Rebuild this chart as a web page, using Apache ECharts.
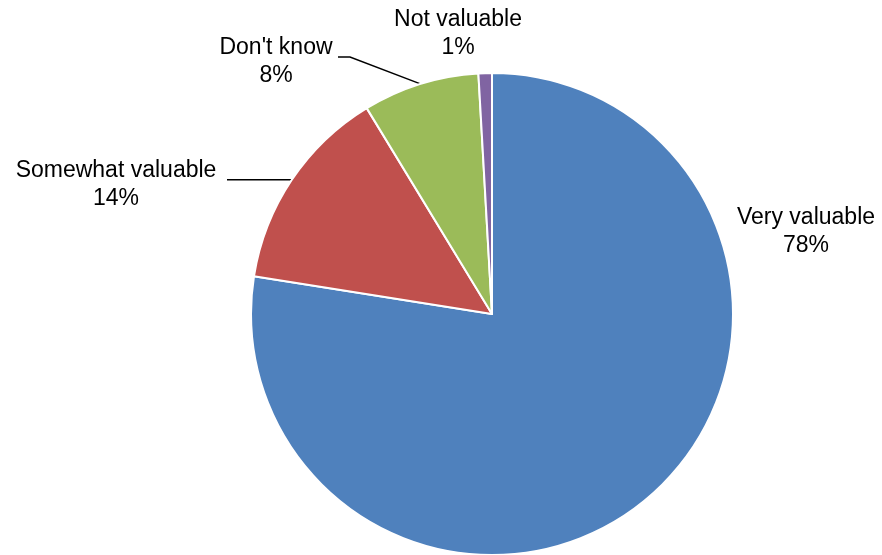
<!DOCTYPE html>
<html>
<head>
<meta charset="utf-8">
<script src="https://cdn.jsdelivr.net/npm/echarts@6/dist/echarts.min.js"></script>
<style>html,body{margin:0;padding:0;background:#fff}#c{width:882px;height:555px}</style>
</head>
<body>
<div id="c"></div>
<script>
const categories = ['Very valuable', 'Somewhat valuable', "Don't know", 'Not valuable'];
const values = [77.5, 13.8, 7.8, 0.9];
const colors = ['#4F81BD', '#C0504D', '#9BBB59', '#8064A2'];
const showLeader = [false, true, true, false];

const labelSpots = [
  {x: 806, y: 232},
  {x: 116, y: 185},
  {x: 276, y: 62},
  {x: 458, y: 34}
];

const chart = echarts.init(document.getElementById('c'), null, {renderer: 'canvas'});
chart.setOption({
  animation: false,
  backgroundColor: '#fff',
  series: [{
    type: 'pie',
    center: [492, 314],
    radius: 241,
    startAngle: 90,
    clockwise: true,
    avoidLabelOverlap: false,
    itemStyle: {borderColor: '#fff', borderWidth: 2},
    label: {
      show: true,
      position: 'outside',
      color: '#000',
      fontFamily: 'Liberation Sans, Arial, sans-serif',
      fontSize: 23,
      lineHeight: 28,
      align: 'center',
      formatter: p => p.name + '\n' + Math.round(p.percent) + '%'
    },
    labelLine: {show: true, length: 10, length2: 10, lineStyle: {color: '#000', width: 1.5}},
    labelLayout: function (p) {
      const s = labelSpots[p.dataIndex];
      const out = {x: s.x, y: s.y, align: 'center', verticalAlign: 'middle'};
      const p0 = p.labelLinePoints && p.labelLinePoints[0];
      if (p0) {
        if (p.dataIndex === 1) {
          out.labelLinePoints = [p0, [p0[0] - 35, p0[1]], [227, p0[1]]];
        } else if (p.dataIndex === 2) {
          out.labelLinePoints = [p0, [350, 57], [338, 57]];
        }
      }
      return out;
    },
    data: categories.map((c, i) => ({
      name: c,
      value: values[i],
      itemStyle: {color: colors[i]},
      labelLine: {show: showLeader[i]}
    }))
  }]
});
</script>
</body>
</html>
